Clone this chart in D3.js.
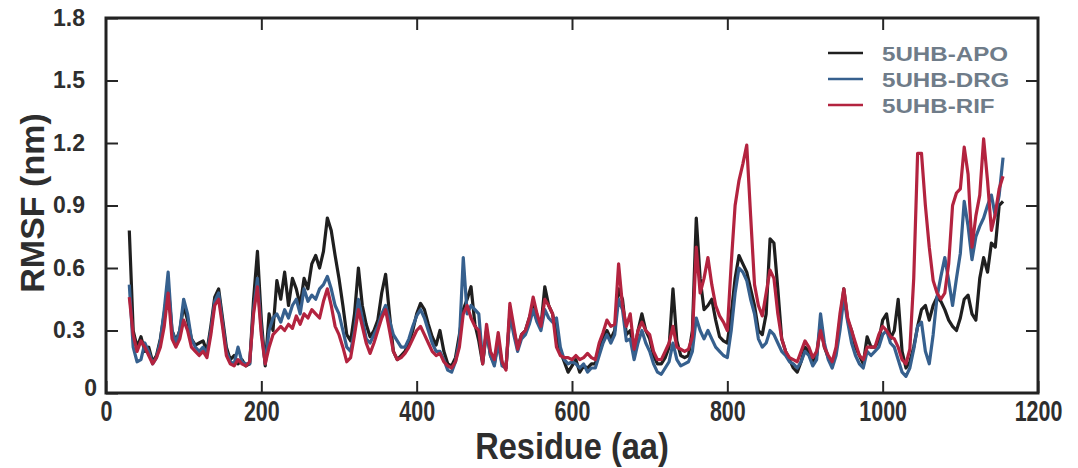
<!DOCTYPE html>
<html>
<head>
<meta charset="utf-8">
<script src="https://cdn.jsdelivr.net/npm/d3@7"></script>
<style>
  body { margin: 0; background: #fff; }
  svg text { font-family: "Liberation Sans", Arial, Helvetica, sans-serif; font-weight: bold; }
</style>
</head>
<body>
<div id="chart"></div>
<script>
// residues sampled every 5 aa, 30..1155
var residues = d3.range(30, 1156, 5);

var apo = [
  0.78,0.30,0.22,0.27,0.20,0.22,0.15,0.18,0.26,0.38,
  0.52,0.30,0.25,0.30,0.42,0.35,0.26,0.23,0.24,0.25,
  0.20,0.32,0.46,0.50,0.36,0.22,0.16,0.18,0.14,0.16,
  0.13,0.14,0.45,0.68,0.35,0.13,0.38,0.30,0.54,0.45,
  0.58,0.42,0.55,0.50,0.42,0.55,0.50,0.62,0.66,0.60,
  0.68,0.84,0.78,0.66,0.55,0.42,0.28,0.25,0.38,0.60,
  0.42,0.33,0.27,0.30,0.35,0.48,0.57,0.38,0.20,0.16,
  0.18,0.20,0.24,0.30,0.38,0.43,0.40,0.33,0.27,0.23,
  0.30,0.20,0.14,0.13,0.17,0.28,0.40,0.45,0.51,0.33,
  0.25,0.14,0.30,0.18,0.14,0.25,0.14,0.12,0.38,0.30,
  0.22,0.28,0.30,0.36,0.42,0.35,0.32,0.51,0.42,0.38,
  0.28,0.20,0.15,0.10,0.13,0.16,0.10,0.13,0.12,0.14,
  0.14,0.20,0.27,0.30,0.26,0.30,0.50,0.45,0.28,0.30,
  0.20,0.30,0.38,0.30,0.26,0.18,0.14,0.14,0.17,0.22,
  0.50,0.25,0.18,0.17,0.18,0.30,0.84,0.55,0.40,0.42,
  0.45,0.35,0.27,0.25,0.24,0.38,0.55,0.66,0.62,0.58,
  0.50,0.42,0.30,0.28,0.38,0.74,0.72,0.50,0.26,0.20,
  0.16,0.12,0.10,0.15,0.22,0.20,0.15,0.18,0.33,0.22,
  0.17,0.14,0.20,0.35,0.50,0.35,0.30,0.22,0.18,0.14,
  0.27,0.22,0.22,0.25,0.35,0.38,0.26,0.30,0.45,0.20,
  0.12,0.15,0.22,0.32,0.40,0.42,0.35,0.42,0.46,0.44,
  0.40,0.35,0.32,0.30,0.36,0.45,0.47,0.38,0.35,0.55,
  0.65,0.58,0.72,0.70,0.90,0.92
];

var drg = [
  0.52,0.22,0.15,0.16,0.24,0.20,0.14,0.17,0.25,0.40,
  0.58,0.30,0.24,0.30,0.45,0.38,0.26,0.22,0.20,0.22,
  0.19,0.30,0.44,0.48,0.34,0.20,0.15,0.14,0.22,0.15,
  0.14,0.14,0.40,0.55,0.30,0.14,0.30,0.36,0.38,0.34,
  0.40,0.36,0.42,0.45,0.38,0.50,0.44,0.47,0.45,0.50,
  0.52,0.56,0.50,0.42,0.38,0.30,0.22,0.20,0.30,0.45,
  0.36,0.26,0.24,0.28,0.32,0.38,0.42,0.35,0.28,0.25,
  0.22,0.22,0.26,0.32,0.37,0.40,0.36,0.30,0.24,0.20,
  0.20,0.16,0.11,0.10,0.15,0.25,0.65,0.38,0.42,0.40,
  0.38,0.15,0.30,0.18,0.13,0.24,0.13,0.12,0.38,0.28,
  0.20,0.26,0.28,0.33,0.40,0.34,0.30,0.40,0.36,0.34,
  0.36,0.22,0.16,0.14,0.15,0.14,0.12,0.14,0.10,0.12,
  0.12,0.18,0.24,0.28,0.24,0.28,0.45,0.40,0.25,0.26,
  0.16,0.24,0.30,0.24,0.20,0.14,0.10,0.09,0.12,0.15,
  0.24,0.16,0.13,0.14,0.15,0.20,0.36,0.30,0.26,0.30,
  0.26,0.22,0.20,0.18,0.17,0.30,0.48,0.60,0.58,0.54,
  0.45,0.38,0.26,0.22,0.24,0.30,0.28,0.24,0.20,0.18,
  0.15,0.14,0.12,0.15,0.20,0.18,0.13,0.16,0.38,0.24,
  0.16,0.12,0.18,0.30,0.46,0.34,0.24,0.18,0.14,0.12,
  0.20,0.18,0.20,0.22,0.28,0.30,0.24,0.22,0.16,0.10,
  0.08,0.12,0.21,0.32,0.34,0.20,0.14,0.28,0.46,0.56,
  0.65,0.54,0.42,0.55,0.67,0.92,0.80,0.64,0.75,0.80,
  0.84,0.90,0.95,0.85,0.95,1.13
];

var rif = [
  0.46,0.28,0.20,0.25,0.22,0.18,0.14,0.17,0.22,0.32,
  0.48,0.26,0.22,0.26,0.35,0.30,0.22,0.20,0.18,0.20,
  0.17,0.28,0.42,0.45,0.32,0.18,0.14,0.13,0.16,0.14,
  0.13,0.15,0.38,0.51,0.28,0.14,0.22,0.28,0.30,0.32,
  0.30,0.33,0.31,0.37,0.33,0.38,0.36,0.40,0.38,0.36,
  0.44,0.50,0.42,0.32,0.28,0.22,0.15,0.17,0.28,0.40,
  0.32,0.24,0.19,0.24,0.30,0.36,0.40,0.30,0.20,0.16,
  0.17,0.19,0.22,0.26,0.30,0.32,0.28,0.24,0.20,0.18,
  0.19,0.15,0.13,0.12,0.15,0.22,0.38,0.42,0.36,0.32,
  0.30,0.14,0.33,0.20,0.16,0.29,0.15,0.11,0.43,0.32,
  0.21,0.28,0.30,0.36,0.46,0.38,0.32,0.45,0.42,0.38,
  0.22,0.18,0.17,0.17,0.16,0.18,0.16,0.17,0.19,0.17,
  0.16,0.24,0.29,0.35,0.32,0.33,0.62,0.42,0.32,0.38,
  0.21,0.30,0.34,0.30,0.28,0.20,0.16,0.16,0.20,0.24,
  0.32,0.22,0.21,0.20,0.21,0.27,0.70,0.48,0.55,0.65,
  0.52,0.42,0.37,0.34,0.30,0.62,0.90,1.02,1.10,1.19,
  0.85,0.52,0.42,0.37,0.48,0.59,0.55,0.38,0.26,0.20,
  0.17,0.16,0.15,0.20,0.25,0.22,0.17,0.20,0.30,0.22,
  0.18,0.15,0.22,0.38,0.50,0.36,0.30,0.24,0.18,0.16,
  0.22,0.22,0.22,0.28,0.32,0.30,0.27,0.26,0.22,0.16,
  0.14,0.21,0.55,1.15,1.15,0.90,0.70,0.54,0.48,0.45,
  0.48,0.62,0.90,0.96,0.98,1.18,1.05,0.70,0.85,0.95,
  1.22,1.02,0.78,0.86,0.98,1.04
];

var seriesNames = ["5UHB-APO", "5UHB-DRG", "5UHB-RIF"];
var seriesColors = ["#1f1f1f", "#36608e", "#b3233f"];
var xTicks = [0, 200, 400, 600, 800, 1000, 1200];
var yTicks = [0, 0.3, 0.6, 0.9, 1.2, 1.5, 1.8];
var yTickLabels = ["0", "0.3", "0.6", "0.9", "1.2", "1.5", "1.8"];

(function() {
  var W = 1078, H = 468;
  // plot box in pixels (window.top is reserved, so no "top" here)
  var pL = 106, pR = 1038, pT = 18, pB = 393;

  var svg = d3.select("#chart").append("svg").attr("width", W).attr("height", H);

  var x = d3.scaleLinear().domain([0, 1200]).range([pL, pR]);
  var y = d3.scaleLinear().domain([0, 1.8]).range([pB, pT]);

  var line = d3.line()
    .x(function(d) { return x(d[0]); })
    .y(function(d) { return y(d[1]); });

  // curves: black under, red on top
  [apo, drg, rif].forEach(function(vals, i) {
    var pts = residues.map(function(r, j) { return [r, vals[j]]; });
    svg.append("path")
      .attr("d", line(pts))
      .attr("fill", "none")
      .attr("stroke", seriesColors[i])
      .attr("stroke-width", 3.2)
      .attr("stroke-linejoin", "round");
  });

  // axes, ticks pointing inward on all four sides
  function styleAxis(g) {
    g.select(".domain").remove();
    g.selectAll(".tick line").attr("stroke", "#262626").attr("stroke-width", 2);
    g.selectAll(".tick text").attr("fill", "#2e2e2e");
  }

  var xb = svg.append("g").attr("transform", "translate(0," + pB + ")")
    .call(d3.axisBottom(x).tickValues(xTicks).tickSizeInner(-12).tickSizeOuter(0).tickPadding(7).tickFormat(d3.format("d")));
  styleAxis(xb);
  // narrow, tall digits like the original
  xb.selectAll(".tick text").attr("font-size", 29).attr("transform", "scale(0.74,1)");

  var xt = svg.append("g").attr("transform", "translate(0," + pT + ")")
    .call(d3.axisTop(x).tickValues(xTicks.slice(1, -1)).tickSizeInner(-12).tickSizeOuter(0).tickFormat(""));
  styleAxis(xt);

  var yl = svg.append("g").attr("transform", "translate(" + pL + ",0)")
    .call(d3.axisLeft(y).tickValues(yTicks).tickSizeInner(-12).tickSizeOuter(0).tickPadding(21)
      .tickFormat(function(d, i) { return yTickLabels[i]; }));
  styleAxis(yl);
  yl.selectAll(".tick text").attr("font-size", 23);
  // the "0" label sits lower-right in the original
  yl.selectAll(".tick text").filter(function(d) { return d === 0; }).attr("dx", 12).attr("dy", "0.1em");

  var yr = svg.append("g").attr("transform", "translate(" + pR + ",0)")
    .call(d3.axisRight(y).tickValues(yTicks.slice(1, -1)).tickSizeInner(-12).tickSizeOuter(0).tickFormat(""));
  styleAxis(yr);

  // frame
  svg.append("rect")
    .attr("x", pL).attr("y", pT)
    .attr("width", pR - pL).attr("height", pB - pT)
    .attr("fill", "none").attr("stroke", "#222").attr("stroke-width", 3);

  // axis titles
  svg.append("text")
    .attr("transform", "translate(" + ((pL + pR) / 2) + ",459) scale(0.88,1)")
    .attr("text-anchor", "middle").attr("font-size", 37).attr("fill", "#2e2e2e")
    .text("Residue (aa)");

  svg.append("text")
    .attr("transform", "translate(44,203) rotate(-90)")
    .attr("text-anchor", "middle").attr("font-size", 34).attr("fill", "#2e2e2e")
    .text("RMSF (nm)");

  // legend (text a bit wide in the original)
  var lg = svg.append("g");
  seriesNames.forEach(function(name, i) {
    var ly = 53 + i * 26;
    lg.append("line").attr("x1", 828).attr("x2", 863).attr("y1", ly).attr("y2", ly)
      .attr("stroke", seriesColors[i]).attr("stroke-width", 2.5);
    lg.append("text")
      .attr("transform", "translate(882," + (ly + 8) + ") scale(1.15,1)")
      .attr("font-size", 21).attr("fill", "#6f7c89")
      .text(name);
  });
})();
</script>
</body>
</html>
